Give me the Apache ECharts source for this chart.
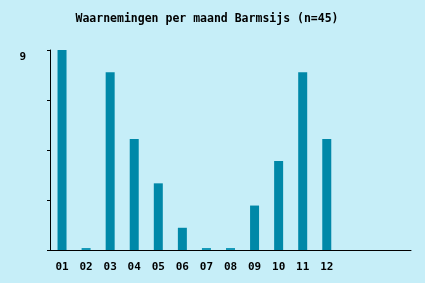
<!DOCTYPE html>
<html>
<head>
<meta charset="utf-8">
<script src="https://cdn.jsdelivr.net/npm/echarts@6/dist/echarts.min.js"></script>
<style>
html,body{margin:0;padding:0;background:#c6eef8;}
#c{width:425px;height:283px;}
</style>
</head>
<body>
<div id="c"></div>
<script>
const titleText = 'Waarnemingen per maand Barmsijs (n=45)';
const months = ['01','02','03','04','05','06','07','08','09','10','11','12','','',''];
const counts = [9,0,8,5,3,1,0,0,2,4,8,5];
const yTickLabels = ['9'];

const font = 'DejaVu Sans Mono';
const chart = echarts.init(document.getElementById('c'));
chart.setOption({
  backgroundColor: '#c6eef8',
  animation: false,
  title: {
    text: titleText, left: 202, textAlign: 'center', top: 8,
    textStyle: {fontFamily: font, fontSize: 11.5, fontWeight: 'bold', color: '#000'}
  },
  grid: {left: 50, right: 14, top: 50, bottom: 33, containLabel: false},
  xAxis: {
    type: 'category', data: months, boundaryGap: true,
    axisLine: {lineStyle: {color: '#000', width: 1}},
    axisTick: {alignWithLabel: true, length: 3, lineStyle: {color: '#000'},
      interval: function(i){ return i < 12; }},
    axisLabel: {interval: 0, margin: 12, fontFamily: font, fontSize: 11, fontWeight: 'bold', color: '#000'}
  },
  yAxis: {
    type: 'value', min: 0, max: 9, interval: 2.25,
    splitLine: {show: false},
    axisLine: {show: true, lineStyle: {color: '#000', width: 1}},
    axisTick: {show: true, length: 3, lineStyle: {color: '#000'}},
    axisLabel: {
      margin: 24, verticalAlign: 'top', padding: [2, 0, 0, 0], fontFamily: font, fontSize: 11, fontWeight: 'bold', color: '#000',
      formatter: function(v){ return yTickLabels.indexOf(String(v)) >= 0 ? String(v) : ''; }
    }
  },
  series: [{
    type: 'bar', barWidth: 9, barMinHeight: 2,
    data: counts.map(v => v === 0 ? {value: v, itemStyle: {color: '#1699b8'}} : v),
    itemStyle: {color: '#0088a8'}
  }]
});
</script>
</body>
</html>
